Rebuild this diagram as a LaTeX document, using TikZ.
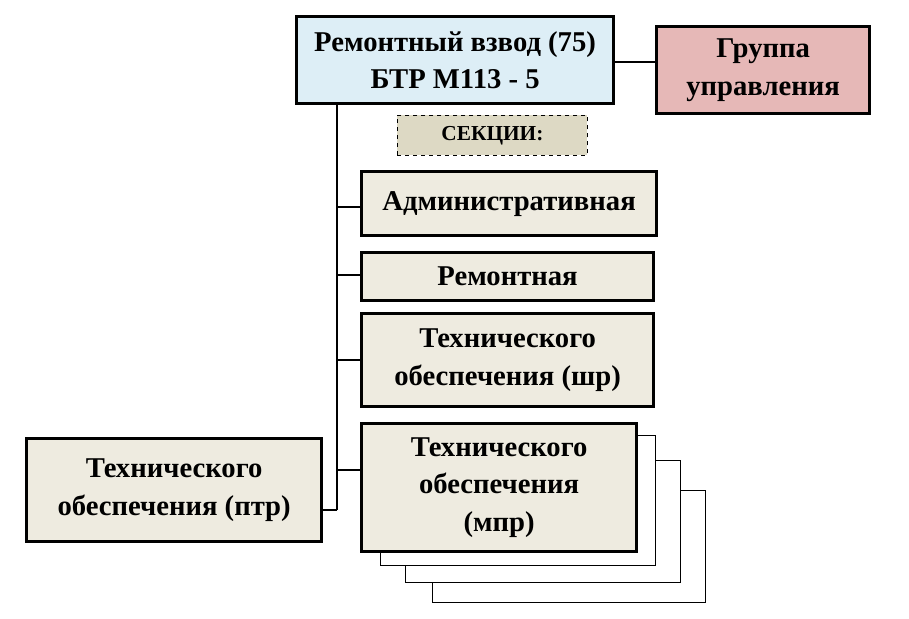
\documentclass[tikz,border=0pt]{standalone}
\usepackage{fontspec}
\setmainfont{Liberation Serif}
\begin{document}
\begin{tikzpicture}[x=0.75pt,y=-0.75pt,
  box/.style={draw=black,line width=2.4pt,fill=beige,align=center,inner sep=1pt,font=\bfseries\fontsize{21.5}{28}\selectfont},
  shadowbox/.style={draw=black,line width=0.6pt,fill=white},
  conn/.style={draw=black,line width=1pt}]
\definecolor{beige}{HTML}{EEEBE0}
\definecolor{lblue}{HTML}{DDEEF6}
\definecolor{pinkc}{HTML}{E6B8B7}
\definecolor{secc}{HTML}{DDD9C4}
\useasboundingbox (0,0) rectangle (909,618);
% stacked shadow boxes
\draw[shadowbox] (432,490) rectangle (705,602);
\draw[shadowbox] (405,460) rectangle (680,582);
\draw[shadowbox] (380,435) rectangle (655,565);
% connectors
\coordinate (v0) at (337,102);
\coordinate (v1) at (337,510);
\draw[conn] (v0) -- (v1);
\node[box,fill=lblue,minimum width=317*0.75pt,minimum height=87*0.75pt,anchor=north west] (top) at (295,15) {Ремонтный взвод (75)\\БТР М113 - 5};
\node[box,fill=pinkc,minimum width=213*0.75pt,minimum height=87*0.75pt,anchor=north west] (grp) at (655,25) {Группа\\управления};
\draw[conn] (top.east |- 0,62) -- (grp.west |- 0,62);
\node[draw=black,dashed,line width=0.6pt,fill=secc,minimum width=190*0.75pt,minimum height=40*0.75pt,anchor=north west,font=\bfseries\fontsize{16}{19}\selectfont] (sec) at (397,115) {СЕКЦИИ:};
\node[box,minimum width=295*0.75pt,minimum height=64*0.75pt,anchor=north west] (adm) at (360,170) {Административная};
\node[box,minimum width=292*0.75pt,minimum height=48*0.75pt,anchor=north west] (rem) at (360,251) {Ремонтная};
\node[box,minimum width=292*0.75pt,minimum height=93*0.75pt,anchor=north west] (shr) at (360,312) {Технического\\обеспечения (шр)};
\node[box,minimum width=275*0.75pt,minimum height=128*0.75pt,anchor=north west] (mpr) at (360,422) {Технического\\обеспечения\\(мпр)};
\node[box,minimum width=295*0.75pt,minimum height=103*0.75pt,anchor=north west] (ptr) at (25,437) {Технического\\обеспечения (птр)};
\draw[conn] (337,207) -- (adm.west |- 0,207);
\draw[conn] (337,275) -- (rem.west |- 0,275);
\draw[conn] (337,360) -- (shr.west |- 0,360);
\draw[conn] (337,470) -- (mpr.west |- 0,470);
\draw[conn] (v1) -- (ptr.east |- v1);
\end{tikzpicture}
\end{document}
